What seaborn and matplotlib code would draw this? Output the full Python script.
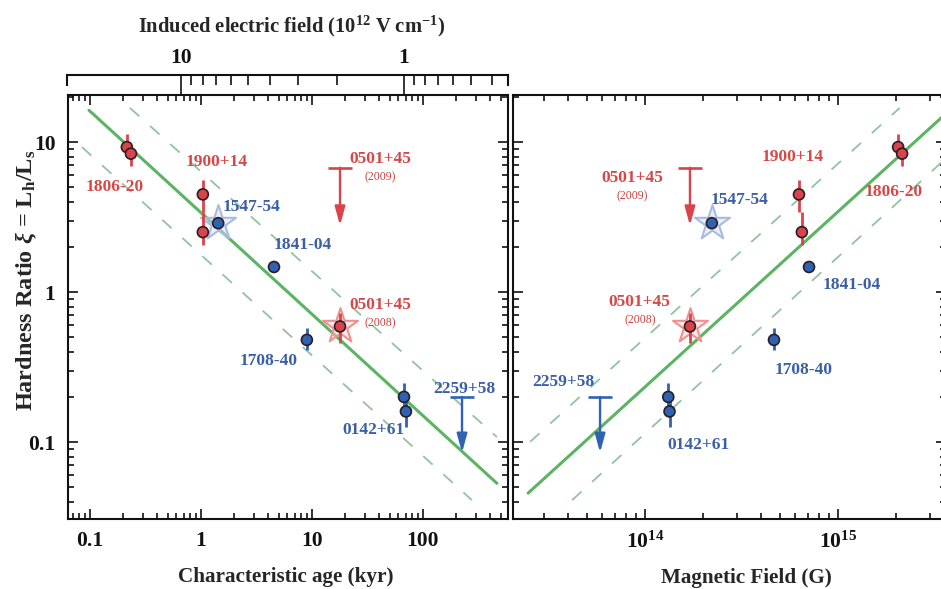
import numpy as np
import pandas as pd
import matplotlib
matplotlib.use("Agg")
import matplotlib.pyplot as plt
from matplotlib.ticker import FixedLocator, FixedFormatter, NullFormatter, LogLocator
import seaborn as sns

# ---------------- data ----------------
# detected sources (circles): characteristic age [kyr], dipole field [G], hardness ratio
src_name = ["1806-20", "1806-20", "1900+14", "1900+14", "1547-54", "1841-04",
            "0501+45 (2008)", "1708-40", "0142+61", "0142+61"]
src_class = ["SGR", "SGR", "SGR", "SGR", "AXP", "AXP", "SGR", "AXP", "AXP", "AXP"]
src_age = [0.215, 0.234, 1.04, 1.04, 1.43, 4.55, 17.9, 9.0, 67.5, 70.3]
src_bfield = [2.05e15, 2.15e15, 6.28e14, 6.5e14, 2.22e14, 7.08e14, 1.71e14, 4.66e14, 1.32e14, 1.34e14]
src_ratio = [9.26, 8.37, 4.48, 2.51, 2.88, 1.47, 0.59, 0.48, 0.20, 0.16]
src_err_lo = [8.0, 6.9, 3.4, 2.05, np.nan, np.nan, 0.46, 0.41, 0.17, 0.126]
src_err_hi = [11.4, 9.5, 5.56, 3.4, np.nan, np.nan, 0.73, 0.575, 0.248, 0.19]

# transient outbursts highlighted with a star
star_class = ["AXP", "SGR"]
star_age = [1.43, 17.9]
star_bfield = [2.22e14, 1.71e14]
star_ratio = [2.88, 0.59]

# upper limits
lim_name = ["0501+45 (2009)", "2259+58"]
lim_class = ["SGR", "AXP"]
lim_age = [17.9, 225.0]
lim_bfield = [1.71e14, 5.85e13]
lim_top = [6.75, 0.20]
lim_tip = [2.78, 0.085]

# best-fit relations (solid) and their spread (dashed)
fit_age = [0.098, 464.0]
fit_age_ratio = [16.3, 0.0531]
upper_age = [0.229, 464.0]
upper_age_ratio = [16.9, 0.108]
lower_age = [0.0847, 276.0]
lower_age_ratio = [9.26, 0.041]

fit_b = [2.48e13, 3.63e15]
fit_b_ratio = [0.0457, 15.5]
upper_b = [2.54e13, 2.09e15]
upper_b_ratio = [0.1005, 16.9]
lower_b = [4.19e13, 3.63e15]
lower_b_ratio = [0.041, 7.8]

# induced electric field scale (10^12 V/cm): E = E_ref * (age / age_ref)^-1/2
field_ref = 1.0
field_age_ref = 67.5

# source labels: (text, sub-label, x, y) for each panel
labels_age = [("1806-20", None, 0.168, 5.0), ("1900+14", None, 1.39, 7.36),
              ("0501+45", "(2009)", 41.0, 7.7), ("1547-54", None, 2.88, 3.69),
              ("1841-04", None, 8.3, 2.06), ("0501+45", "(2008)", 41.0, 0.82),
              ("1708-40", None, 4.1, 0.347), ("2259+58", None, 234.0, 0.226),
              ("0142+61", None, 35.5, 0.120)]
labels_b = [("0501+45", "(2009)", 8.57e13, 5.75), ("1547-54", None, 3.1e14, 4.1),
            ("1900+14", None, 5.85e14, 7.94), ("1806-20", None, 1.95e15, 4.64),
            ("1841-04", None, 1.18e15, 1.11), ("0501+45", "(2008)", 9.4e13, 0.86),
            ("1708-40", None, 6.67e14, 0.302), ("2259+58", None, 3.76e13, 0.251),
            ("0142+61", None, 1.9e14, 0.0955)]

# ---------------- style ----------------
sns.set_theme(style="ticks")
plt.rcParams.update({
    "font.family": ["Liberation Serif", "DejaVu Serif"],
    "font.weight": "bold",
    "mathtext.fontset": "custom",
    "mathtext.rm": "Liberation Serif:bold",
    "mathtext.it": "Liberation Serif:italic",
    "mathtext.bf": "Liberation Serif:bold",
    "axes.linewidth": 1.5,
    "axes.edgecolor": "#111111",
})

RED = "#d9434a"
RED_TXT = "#d64848"
BLUE = "#2f62b0"
BLUE_TXT = "#3a5fa6"
GREEN = "#5bb464"
DASH = "#93c2a0"
col = {"SGR": RED, "AXP": BLUE}
txt_col = {"SGR": RED_TXT, "AXP": BLUE_TXT}
star_face = {"SGR": (1.0, 0.80, 0.80, 0.45), "AXP": (0.82, 0.86, 0.97, 0.45)}
star_edge = {"SGR": "#f09090", "AXP": "#a9badf"}

W, H = 941, 589
fig = plt.figure(figsize=(W / 100, H / 100), dpi=100)

def frac(x0, y0, x1, y1):
    return [x0 / W, 1 - y1 / H, (x1 - x0) / W, (y1 - y0) / H]

ax1 = fig.add_axes(frac(68, 95, 508, 519))
ax2 = fig.add_axes(frac(513, 95, 946, 519))
axE = fig.add_axes(frac(67, 75, 508, 85))

df = pd.DataFrame({"name": src_name, "cls": src_class, "age": src_age,
                   "bfield": src_bfield, "ratio": src_ratio,
                   "lo": src_err_lo, "hi": src_err_hi})
stars = pd.DataFrame({"cls": star_class, "age": star_age, "bfield": star_bfield, "ratio": star_ratio})
lims = pd.DataFrame({"name": lim_name, "cls": lim_class, "age": lim_age, "bfield": lim_bfield,
                     "top": lim_top, "tip": lim_tip})

ylim = (0.0307, 20.6)

def draw_panel(ax, xcol, fit, upper, lower, labels, xlim):
    ax.set_xscale("log")
    ax.set_yscale("log")
    # relations
    sns.lineplot(x=upper[0], y=upper[1], ax=ax, color=DASH, lw=1.3, sort=False, zorder=1)
    sns.lineplot(x=lower[0], y=lower[1], ax=ax, color=DASH, lw=1.3, sort=False, zorder=1)
    for ln in ax.lines:
        ln.set_dashes((7, 8))
    sns.lineplot(x=fit[0], y=fit[1], ax=ax, color=GREEN, lw=2.2, sort=False, zorder=2)
    # stars
    for cls, grp in stars.groupby("cls"):
        sns.scatterplot(data=grp, x=xcol, y="ratio", ax=ax, marker="*", s=700,
                        color=star_face[cls], edgecolor=star_edge[cls], linewidth=1.5,
                        legend=False, zorder=3)
    # error bars
    for _, r in df.dropna(subset=["lo"]).iterrows():
        ax.vlines(r[xcol], r["lo"], r["hi"], color=col[r["cls"]], lw=2.0, zorder=4)
    # upper limits
    for _, r in lims.iterrows():
        c = col[r["cls"]]
        ax.annotate("", xy=(r[xcol], r["tip"]), xytext=(r[xcol], r["top"]),
                    arrowprops=dict(arrowstyle="-|>,head_length=0.8,head_width=0.22", color=c, lw=1.7,
                                    mutation_scale=14, shrinkA=0, shrinkB=0),
                    zorder=4)
        ax.plot([r[xcol]], [r["top"]], marker="_", ms=17, mew=1.9, color=c, zorder=4)
    # detections
    sns.scatterplot(data=df, x=xcol, y="ratio", hue="cls", palette=col, ax=ax, s=62,
                    edgecolor="#2a1d25", linewidth=1.2, legend=False, zorder=5)
    # labels
    for text, sub, x, y in labels:
        cls = "SGR" if text in ("1806-20", "1900+14", "0501+45") else "AXP"
        ax.text(x, y, text, color=txt_col[cls], fontsize=12.5, fontweight="bold",
                ha="center", va="center", zorder=6)
        if sub:
            sy = y * 10 ** (-18 / 150)
            ax.text(x, sy, sub, color="#c84040", fontsize=8.5, fontweight="normal",
                    ha="center", va="center", zorder=6)
    ax.set_xlim(*xlim)
    ax.set_ylim(*ylim)
    ax.set_xlabel("")
    ax.set_ylabel("")
    ax.tick_params(which="both", direction="in", top=True, right=True,
                   labelsize=15.5, width=1.2, colors="#111111")
    ax.tick_params(which="major", length=7)
    ax.tick_params(which="minor", length=4)
    ax.tick_params(axis="x", pad=9)
    ax.tick_params(axis="y", pad=9)
    ax.yaxis.set_major_locator(FixedLocator([0.1, 1, 10]))
    ax.yaxis.set_minor_locator(LogLocator(base=10, subs=np.arange(2, 10), numticks=20))
    ax.yaxis.set_minor_formatter(NullFormatter())
    ax.xaxis.set_minor_formatter(NullFormatter())
    sns.despine(ax=ax, top=False, right=False)

draw_panel(ax1, "age", (fit_age, fit_age_ratio), (upper_age, upper_age_ratio),
           (lower_age, lower_age_ratio), labels_age, (0.0634, 584))
ax1.xaxis.set_major_locator(FixedLocator([0.1, 1, 10, 100]))
ax1.xaxis.set_major_formatter(FixedFormatter(["0.1", "1", "10", "100"]))
ax1.xaxis.set_minor_locator(LogLocator(base=10, subs=np.arange(2, 10), numticks=20))
ax1.yaxis.set_major_formatter(FixedFormatter(["0.1", "1", "10"]))

draw_panel(ax2, "bfield", (fit_b, fit_b_ratio), (upper_b, upper_b_ratio),
           (lower_b, lower_b_ratio), labels_b, (2.07e13, 3.63e15))
ax2.xaxis.set_major_locator(FixedLocator([1e14, 1e15]))
ax2.xaxis.set_major_formatter(FixedFormatter([r"$\mathregular{10^{14}}$", r"$\mathregular{10^{15}}$"]))
ax2.xaxis.set_minor_locator(LogLocator(base=10, subs=np.arange(2, 10), numticks=20))
ax2.yaxis.set_major_formatter(NullFormatter())
ax2.spines["right"].set_visible(False)

# induced electric field scale above the age panel
def age_to_field(a):
    return field_ref * (np.asarray(a) / field_age_ref) ** -0.5

axE.set_xscale("log")
e_lo, e_hi = age_to_field(ax1.get_xlim())
axE.set_xlim(e_lo, e_hi)
axE.set_ylim(0, 1)
axE.set_yticks([])
axE.spines["bottom"].set_visible(False)
for s in ("top", "left", "right"):
    axE.spines[s].set_linewidth(1.5)
axE.xaxis.set_ticks_position("top")
axE.xaxis.set_label_position("top")
axE.xaxis.set_major_locator(FixedLocator([10, 1]))
axE.xaxis.set_major_formatter(FixedFormatter(["10", "1"]))
axE.xaxis.set_minor_locator(FixedLocator([9, 8, 7, 6, 5, 4, 3, 2, 0.9, 0.8, 0.7, 0.6, 0.5, 0.4]))
axE.xaxis.set_minor_formatter(NullFormatter())
axE.tick_params(which="both", direction="in", labelsize=15.5, width=1.2, pad=5, colors="#111111")
axE.tick_params(which="major", length=14)
axE.tick_params(which="minor", length=7)
axE.patch.set_alpha(0)

# axis titles
fig.text(292 / W, 1 - 26 / H, r"Induced electric field (10$^{\mathregular{12}}$ V cm$^{\mathregular{-1}}$)",
         ha="center", va="center", fontsize=14.8, fontweight="bold")
fig.text(286 / W, 1 - 577 / H, "Characteristic age (kyr)", ha="center", va="center",
         fontsize=15.2, fontweight="bold")
fig.text(746 / W, 1 - 578 / H, "Magnetic Field (G)", ha="center", va="center",
         fontsize=15.2, fontweight="bold")
fig.text(26 / W, 1 - 280 / H, r"Hardness Ratio $\xi$ = L$_{\mathregular{h}}$/L$_{\mathregular{s}}$",
         ha="center", va="center", rotation=90, fontsize=17.5, fontweight="bold")

fig.savefig("out.png", dpi=100, facecolor="white")
